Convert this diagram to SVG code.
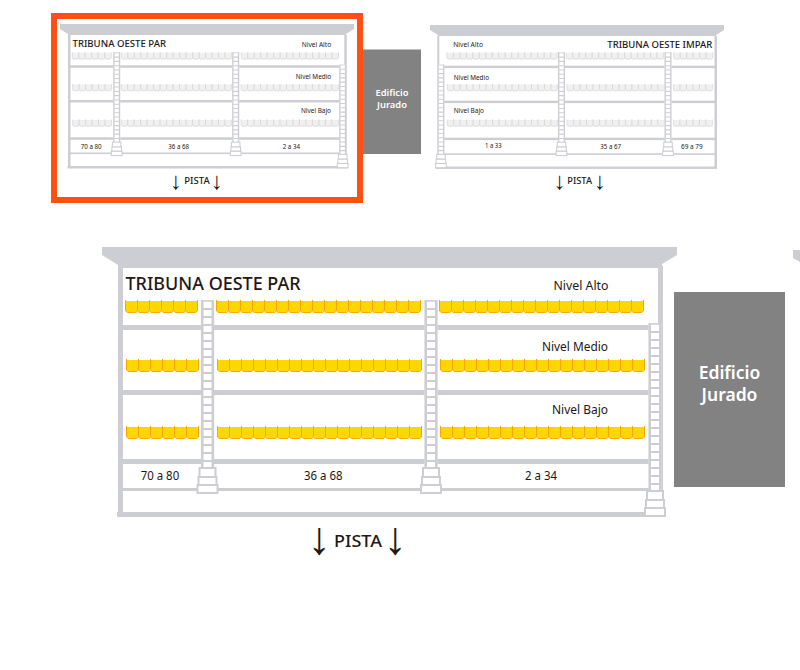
<svg xmlns="http://www.w3.org/2000/svg" xmlns:xlink="http://www.w3.org/1999/xlink" width="800" height="670" viewBox="0 0 800 670">
<style>
text{font-family:"Noto Sans","Open Sans","Liberation Sans",sans-serif;fill:#231815}
.st{fill:#cdced3}
.ttl{font-weight:500}
.bld{fill:#828282}
.bt{fill:#fff;font-weight:600;text-anchor:middle}
.gold{fill:#ffd700;stroke:#ffa500;stroke-width:1}
.pale{fill:#f0f0f0;stroke:#d8d8d8;stroke-width:1.5}
.arr{font-family:"Liberation Sans",sans-serif;text-anchor:middle}
</style>
<defs>
<g id="seat"><path stroke="none" d="M1 1H12V11L10.5 12.5H2.5L1 11Z"/><path fill="none" d="M.5 0V11L2.5 12.5H10.5L12.5 11V0"/></g>
<g id="r3"><use href="#seat"/><use href="#seat" x="12"/><use href="#seat" x="24"/></g>
<g id="r6"><use href="#r3"/><use href="#r3" x="36"/></g>
<g id="r15"><use href="#r6"/><use href="#r6" x="72"/><use href="#r3" x="144"/></g>
<g id="r17"><use href="#r15"/><use href="#seat" x="180"/><use href="#seat" x="192"/></g>
<g id="stair">
<rect x="-6.5" y="0" width="13" height="170" fill="#fff"/>
<path d="M-5.3 0V170M5.3 0V170" fill="none" stroke="#cdced3" stroke-width="2.6"/>
<path d="M-5 1H5" stroke="#cdced3" stroke-width="1.6"/>
<line x1="0" x2="0" y1="8" y2="168" stroke="#cdced3" stroke-width="9" stroke-dasharray="2 6"/>
<g fill="#fff" stroke="#cdced3" stroke-width="2"><rect x="-8" y="168" width="16" height="9"/><rect x="-9" y="177" width="18" height="8"/><rect x="-10" y="185" width="20" height="8"/></g>
</g>
</defs>

<g id="tribuna-oeste-par-mini">
<rect x="54" y="16" width="306" height="184" fill="#fff" stroke="#ff4f12" stroke-width="6"/>
<polygon class="st" points="60,24 354,24 354,29 346,34 346,35 68,35 68,34 60,29"/>
<rect class="st" x="68" y="35" width="2.5" height="133"/><rect class="st" x="344.3" y="35" width="2.5" height="133"/>
<rect class="st" x="70" y="65.3" width="274" height="2.5"/><rect class="st" x="70" y="100" width="274" height="2.5"/><rect class="st" x="70" y="137.3" width="274" height="2.5"/><rect class="st" x="70" y="152.5" width="274" height="1.6"/><rect class="st" x="67.5" y="166" width="280" height="2.5"/>
<g class="pale">
<g transform="translate(72 52.3) scale(.54)"><use href="#r6"/><use href="#r17" x="91"/><use href="#r15" x="313"/></g>
<g transform="translate(72.4 84) scale(.54)"><use href="#r6"/><use href="#r17" x="90"/><use href="#r15" x="312"/></g>
<g transform="translate(72.4 119.5) scale(.54)"><use href="#r6"/><use href="#r17" x="90"/><use href="#r15" x="312"/></g>
</g>
<use href="#stair" transform="translate(116.7 52.3) scale(.535)"/>
<use href="#stair" transform="translate(235.7 52.3) scale(.535)"/>
<use href="#stair" transform="translate(342.7 64.5) scale(.535)"/>
<text class="ttl" x="72.5" y="46.8" font-size="9.4" textLength="93.5" lengthAdjust="spacingAndGlyphs">TRIBUNA OESTE PAR</text>
<text x="301.7" y="46.8" font-size="6.4" textLength="29.5" lengthAdjust="spacingAndGlyphs">Nivel Alto</text>
<text x="295.7" y="79.4" font-size="6.4" textLength="35.5" lengthAdjust="spacingAndGlyphs">Nivel Medio</text>
<text x="301" y="113.4" font-size="6.4" textLength="30" lengthAdjust="spacingAndGlyphs">Nivel Bajo</text>
<text x="80.7" y="148.7" font-size="6.2" textLength="21" lengthAdjust="spacingAndGlyphs">70 a 80</text>
<text x="168.3" y="148.7" font-size="6.2" textLength="20.7" lengthAdjust="spacingAndGlyphs">36 a 68</text>
<text x="282.7" y="148.7" font-size="6.2" textLength="17.3" lengthAdjust="spacingAndGlyphs">2 a 34</text>
<text class="arr" x="176" y="188.5" font-size="24">↓</text>
<text class="ttl" x="184.3" y="184.4" font-size="8.4" textLength="25.4" lengthAdjust="spacingAndGlyphs">PISTA</text>
<text class="arr" x="217" y="188.5" font-size="24">↓</text>
</g>

<g id="edificio-jurado-mini">
<rect class="bld" x="363" y="49.5" width="58" height="104.5"/>
<text class="bt" x="392" y="96" font-size="9.4">Edificio</text>
<text class="bt" x="392" y="108" font-size="9.4">Jurado</text>
</g>

<g id="tribuna-oeste-impar-mini">
<polygon class="st" points="430,25 724,25 724,30 716,35 716,36 438,36 438,35 430,30"/>
<rect class="st" x="437.3" y="36" width="2" height="132"/><rect class="st" x="714.5" y="36" width="2.5" height="132"/>
<rect class="st" x="439" y="65.7" width="276" height="2.4"/><rect class="st" x="439" y="100.7" width="276" height="2.4"/><rect class="st" x="439" y="137.7" width="276" height="2.4"/><rect class="st" x="439" y="153.3" width="276" height="1.6"/><rect class="st" x="435.7" y="166.5" width="281.3" height="2.4"/>
<g class="pale">
<g transform="translate(446.7 52.3) scale(.54)"><use href="#r17"/><use href="#r15" x="221"/><use href="#r6" x="420"/></g>
<g transform="translate(447 84) scale(.54)"><use href="#r17"/><use href="#r15" x="222"/><use href="#r6" x="419"/></g>
<g transform="translate(447 119.5) scale(.54)"><use href="#r17"/><use href="#r15" x="222"/><use href="#r6" x="419"/></g>
</g>
<use href="#stair" transform="translate(440.9 64.5) scale(.535)"/>
<use href="#stair" transform="translate(561.5 52.3) scale(.535)"/>
<use href="#stair" transform="translate(668 52.3) scale(.535)"/>
<text class="ttl" x="607.3" y="47.7" font-size="9.4" textLength="105" lengthAdjust="spacingAndGlyphs">TRIBUNA OESTE IMPAR</text>
<text x="453.3" y="46.8" font-size="6.4" textLength="29.7" lengthAdjust="spacingAndGlyphs">Nivel Alto</text>
<text x="453.7" y="79.7" font-size="6.4" textLength="35.3" lengthAdjust="spacingAndGlyphs">Nivel Medio</text>
<text x="453.7" y="113.4" font-size="6.4" textLength="30.3" lengthAdjust="spacingAndGlyphs">Nivel Bajo</text>
<text x="485" y="148.4" font-size="6.2" textLength="16.7" lengthAdjust="spacingAndGlyphs">1 a 33</text>
<text x="600.3" y="148.7" font-size="6.2" textLength="20.7" lengthAdjust="spacingAndGlyphs">35 a 67</text>
<text x="681" y="148.7" font-size="6.2" textLength="21.7" lengthAdjust="spacingAndGlyphs">69 a 79</text>
<text class="arr" x="559.7" y="189" font-size="24">↓</text>
<text class="ttl" x="567.3" y="184.4" font-size="8.4" textLength="24.7" lengthAdjust="spacingAndGlyphs">PISTA</text>
<text class="arr" x="600" y="189" font-size="24">↓</text>
</g>

<g id="tribuna-oeste-par">
<polygon class="st" points="102,247 677,247 677,255 662,264 662,268 118,268 118,265 102,255"/>
<rect class="st" x="118" y="266" width="5" height="250"/><rect class="st" x="658" y="266" width="5" height="250"/>
<rect class="st" x="122" y="325" width="537" height="5"/><rect class="st" x="122" y="390" width="537" height="5"/><rect class="st" x="122" y="459" width="537" height="5"/><rect class="st" x="122" y="488" width="537" height="3"/><rect class="st" x="117" y="512" width="547" height="5"/>
<g class="gold">
<g transform="translate(125 300)"><use href="#r6"/><use href="#r17" x="91"/><use href="#r15" x="314"/><use href="#seat" x="494"/><use href="#seat" x="506"/></g>
<g transform="translate(126 359)"><use href="#r6"/><use href="#r17" x="91"/><use href="#r15" x="314"/><use href="#seat" x="494"/><use href="#seat" x="506"/></g>
<g transform="translate(126 426)"><use href="#r6"/><use href="#r17" x="91"/><use href="#r15" x="314"/><use href="#seat" x="494"/><use href="#seat" x="506"/></g>
</g>
<use href="#stair" x="207.5" y="300"/>
<use href="#stair" x="431" y="300"/>
<use href="#stair" x="655" y="323"/>
<text class="ttl" x="125.5" y="290" font-size="18" textLength="175" lengthAdjust="spacingAndGlyphs">TRIBUNA OESTE PAR</text>
<text x="553.5" y="290" font-size="12" textLength="55" lengthAdjust="spacingAndGlyphs">Nivel Alto</text>
<text x="542" y="351" font-size="12" textLength="66" lengthAdjust="spacingAndGlyphs">Nivel Medio</text>
<text x="552" y="414" font-size="12" textLength="56" lengthAdjust="spacingAndGlyphs">Nivel Bajo</text>
<text x="140.7" y="480" font-size="12" textLength="38.5" lengthAdjust="spacingAndGlyphs">70 a 80</text>
<text x="304" y="480" font-size="12" textLength="38.5" lengthAdjust="spacingAndGlyphs">36 a 68</text>
<text x="525" y="480" font-size="12" textLength="32" lengthAdjust="spacingAndGlyphs">2 a 34</text>
<text class="arr" x="319" y="554" font-size="46">↓</text>
<text class="ttl" x="334" y="547" font-size="16" textLength="48" lengthAdjust="spacingAndGlyphs">PISTA</text>
<text class="arr" x="395" y="554" font-size="46">↓</text>
</g>

<g id="edificio-jurado">
<rect class="bld" x="674" y="292" width="111" height="195"/>
<text class="bt" x="729.5" y="378.5" font-size="17.5">Edificio</text>
<text class="bt" x="729.5" y="400.5" font-size="17.5">Jurado</text>
</g>

<g id="tribuna-siguiente">
<polygon class="st" points="793,250 800,250 800,262 793,258"/>
</g>
</svg>
